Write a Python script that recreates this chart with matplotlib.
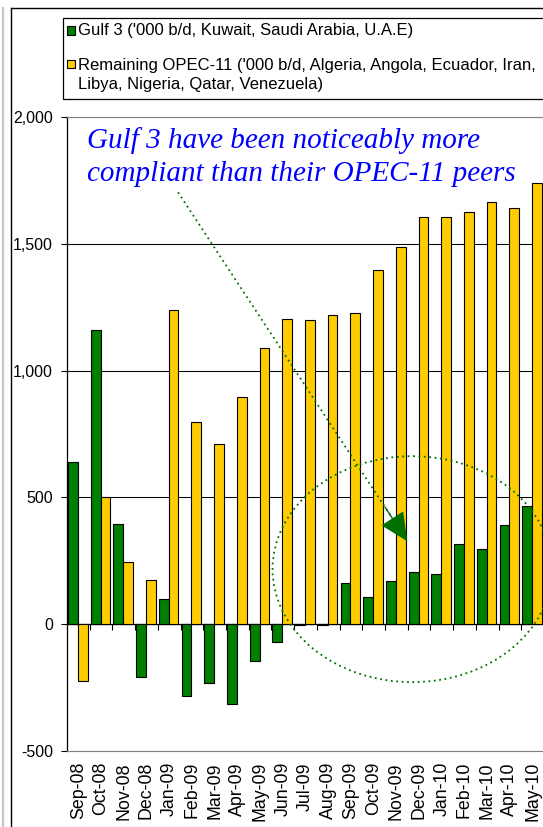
import numpy as np
import matplotlib.pyplot as plt
from matplotlib.patches import Ellipse, Rectangle
from matplotlib.lines import Line2D
from matplotlib.ticker import FuncFormatter

plt.rcParams['font.family'] = ['Liberation Sans', 'DejaVu Sans']

# Data ('000 b/d)
months = ["Sep-08", "Oct-08", "Nov-08", "Dec-08", "Jan-09", "Feb-09", "Mar-09",
          "Apr-09", "May-09", "Jun-09", "Jul-09", "Aug-09", "Sep-09", "Oct-09",
          "Nov-09", "Dec-09", "Jan-10", "Feb-10", "Mar-10", "Apr-10", "May-10"]
gulf3 = [640, 1160, 394, -208, 101, -283, -230, -315, -145, -70, -4, -3,
         162, 106, 171, 206, 197, 315, 296, 390, 465]
opec11 = [-223, 500, 246, 175, 1239, 799, 710, 894, 1090, 1204, 1199, 1218,
          1229, 1395, 1489, 1604, 1604, 1627, 1663, 1643, 1738]
series_labels = ["Gulf 3 ('000 b/d, Kuwait, Saudi Arabia, U.A.E)",
                 "Remaining OPEC-11 ('000 b/d, Algeria, Angola, Ecuador, Iran,\n"
                 "Libya, Nigeria, Qatar, Venezuela)"]
colors = ["#008000", "#FFCC00"]
note_lines = ["Gulf 3 have been noticeably more",
              "compliant than their OPEC-11 peers"]

W, H = 543, 827


def fx(px):
    return px / W


def fy(py):
    return 1 - py / H


fig = plt.figure(figsize=(W / 100, H / 100), dpi=100)
ax = fig.add_axes([fx(67), fy(751), 477 / W, 634 / H])

x = np.arange(len(months))
ax.bar(x + 0.26, gulf3, width=0.43, color=colors[0], edgecolor="black",
       linewidth=0.8, zorder=3)
ax.bar(x + 0.69, opec11, width=0.43, color=colors[1], edgecolor="black",
       linewidth=0.8, zorder=3)

ymin, ymax = -500, 2000
ax.set_xlim(0, len(months))
ax.set_ylim(ymin, ymax)
ax.set_yticks(range(-500, 2001, 500))
ax.yaxis.set_major_formatter(FuncFormatter(lambda v, p: f"{v:,.0f}"))
ax.yaxis.grid(True, color="black", linewidth=0.75)
ax.set_axisbelow(True)

ax.set_xticks(x + 0.5)
ax.set_xticklabels(months, rotation=90, fontsize=12.8)
ax.tick_params(axis="x", length=0, pad=8)
ax.tick_params(axis="y", length=4, width=0.8, pad=6, labelsize=11.5)

ax.spines["right"].set_visible(False)
ax.spines["top"].set_color("#808080")
ax.spines["bottom"].set_color("#808080")
ax.spines["left"].set_color("black")
ax.spines["left"].set_linewidth(0.9)

# category axis crossing at zero
zero = ax.secondary_xaxis((0 - ymin) / (ymax - ymin))
zero.set_xticks(np.arange(len(months) + 1))
zero.tick_params(length=4, width=0.8, direction="out", labelbottom=False,
                 labeltop=False)
for s in zero.spines.values():
    s.set_color("black")
    s.set_linewidth(0.9)

# annotation text
for i, line in enumerate(note_lines):
    ax.text(0.88, 1877 - 130 * i, line, fontfamily="Liberation Serif",
            style="italic", fontsize=21, color="#0000FF", va="baseline",
            zorder=6)

green_dark = "#007000"
ax.add_patch(Ellipse((15.2, 217), 12.3, 891, fill=False, edgecolor=green_dark,
                     linestyle=(0, (1, 2)), linewidth=1.3, zorder=5,
                     clip_on=False))
ax.plot([4.89, 14.6], [1703, 380], color=green_dark, linestyle=(0, (1, 2)),
        linewidth=1.3, zorder=5)
ax.annotate("", xy=(14.98, 327), xytext=(14.0, 462),
            arrowprops=dict(arrowstyle="-|>,head_length=1.8,head_width=0.85",
                            color=green_dark, lw=1.0, shrinkA=0, shrinkB=0),
            zorder=5)

# legend box
fig.add_artist(Rectangle((fx(63), fy(99)), fx(600) - fx(63), 81 / H,
                         transform=fig.transFigure, fill=False,
                         edgecolor="black", linewidth=0.9))
for col, lab, my, ty in zip(colors, series_labels, [30.5, 64], [30.5, 75]):
    fig.add_artist(Rectangle((fx(66.5), fy(my + 4)), 8 / W, 8 / H,
                             transform=fig.transFigure, facecolor=col,
                             edgecolor="black", linewidth=0.8))
    fig.text(fx(78), fy(ty), lab, va="center", ha="left", fontsize=12,
             linespacing=1.3)

# chart frame
fig.add_artist(Line2D([fx(11), fx(11)], [0, fy(8)], color="black", lw=1.0))
fig.add_artist(Line2D([fx(11), 1], [fy(8), fy(8)], color="black", lw=1.0))
fig.add_artist(Line2D([fx(2.5), fx(2.5)], [0, fy(8)], color="#c8c8c8", lw=1.6))

fig.savefig("out.png", dpi=100)
